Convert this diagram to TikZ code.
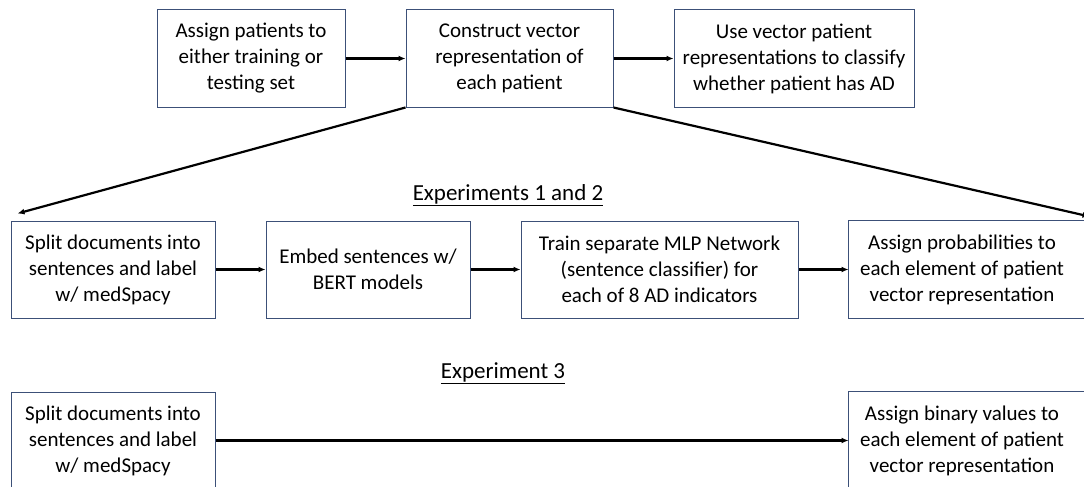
\documentclass[tikz,border=0pt]{standalone}
\usepackage{fontspec}
\setmainfont{Carlito}
\usetikzlibrary{positioning}
\usetikzlibrary{arrows.meta}

\definecolor{boxline}{RGB}{60,80,120}

\begin{document}
\begin{tikzpicture}[x=1pt, y=1pt, node distance=50pt,
		stepbox/.style={draw=boxline, line width=1pt, minimum height=97pt, inner sep=0pt, align=center, font=\fontsize{21}{26}\selectfont},
		edgebox/.style={stepbox, draw=none, minimum width=226pt},
		flow/.style={draw, line width=2.2pt, -{Latex[length=7pt, width=6pt]}},
		heading/.style={font=\fontsize{23}{26}\selectfont}]
			\useasboundingbox (0,0) rectangle (1084,-487);
			\clip (0,0) rectangle (1084,-487);
			\node[stepbox, minimum width=188pt] (assign) at (251,-58.5) {Assign patients to\\either training or\\testing set};
			\node[stepbox, minimum width=207pt, right=60pt of assign] (construct) {Construct vector\\representation of\\each patient};
			\node[stepbox, minimum width=240pt, right=60pt of construct] (classify) {Use vector patient\\representations to classify\\whether patient has AD};
			\node[stepbox, minimum width=204pt] (split) at (113,-269.5) {Split documents into\\sentences and label\\w/ medSpacy};
			\node[stepbox, minimum width=204pt, right=of split] (embed) {Embed sentences w/\\BERT models};
			\node[stepbox, minimum width=277pt, right=of embed] (train) {Train separate MLP Network\\(sentence classifier) for\\each of 8 AD indicators};
			\node[edgebox, right=of train] (probs) {Assign probabilities to\\each element of patient\\vector representation};
			\node[stepbox, minimum width=204pt] (splitthree) at (113,-440.5) {Split documents into\\sentences and label\\w/ medSpacy};
			\node[edgebox] (binary) at (probs |- splitthree) {Assign binary values to\\each element of patient\\vector representation};
			% boxes on the right run past the edge
			\draw[boxline, line width=1pt] (probs.north west) rectangle ([xshift=16pt]probs.south east);
			\draw[boxline, line width=1pt] (binary.north west) rectangle ([xshift=16pt]binary.south east);
			\node[heading] (expone) at (508,-195) {\underline{Experiments 1 and 2}};
			\node[heading] (expthree) at (503,-373) {\underline{Experiment 3}};
			\path[flow] (assign) -- (construct);
			\path[flow] (construct) -- (classify);
			\path[flow] (construct.south west) -- ([shift={(7pt,7pt)}]split.north west);
			\path[flow] (construct.south east) -- ([shift={(14pt,4pt)}]probs.north east);
			\path[flow] (split) -- (embed);
			\path[flow] (embed) -- (train);
			\path[flow] (train) -- (probs);
			\path[flow] (splitthree) -- (binary);
		\end{tikzpicture}
\end{document}
